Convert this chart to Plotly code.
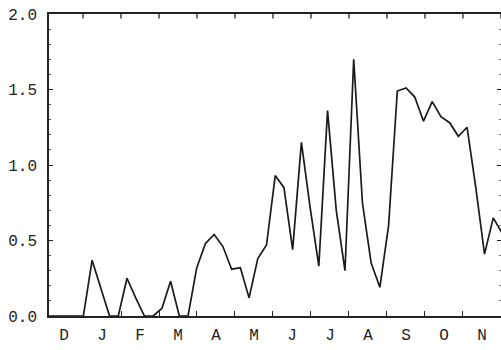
import plotly.graph_objects as go

# Weekly values, week 0 = start of December through November
weeks = list(range(53))
values = [
    0.00, 0.00, 0.00, 0.00, 0.00, 0.37, 0.19, 0.00, 0.00, 0.25,
    0.12, 0.00, 0.00, 0.05, 0.23, 0.00, 0.00, 0.32, 0.48, 0.54,
    0.46, 0.31, 0.32, 0.12, 0.38, 0.47, 0.93, 0.85, 0.44, 1.15,
    0.72, 0.33, 1.36, 0.70, 0.30, 1.70, 0.75, 0.35, 0.19, 0.60,
    1.49, 1.51, 1.45, 1.29, 1.42, 1.32, 1.28, 1.19, 1.25, 0.85,
    0.41, 0.65, 0.55,
]

month_labels = ["D", "J", "F", "M", "A", "M", "J", "J", "A", "S", "O", "N"]
weeks_per_month = 4.357
month_start = -0.40
month_centers = [month_start + weeks_per_month * (k + 0.5) for k in range(len(month_labels))]
month_edges = [month_start + weeks_per_month * k for k in range(len(month_labels) + 1)]

y_ticks = [0.0, 0.5, 1.0, 1.5, 2.0]

ink = "#222222"
font_family = "Liberation Mono, DejaVu Sans Mono, monospace"
x_range = [0.057, 51.89]

fig = go.Figure()
fig.add_trace(go.Scatter(
    x=weeks, y=values, mode="lines",
    line=dict(color="#1a1a1a", width=1.7),
    hoverinfo="skip", showlegend=False,
))
# empty traces that carry the month labels and the right-hand tick marks
fig.add_trace(go.Scatter(
    x=[weeks[0]], y=[values[0]], xaxis="x2", yaxis="y", mode="lines",
    line=dict(width=0), hoverinfo="skip", showlegend=False,
))
fig.add_trace(go.Scatter(
    x=[weeks[0]], y=[values[0]], xaxis="x", yaxis="y2", mode="lines",
    line=dict(width=0), hoverinfo="skip", showlegend=False,
))

# month-boundary tick marks hanging from the top frame line
for edge in month_edges:
    if x_range[0] < edge < x_range[1]:
        fig.add_shape(
            type="line", xref="x", yref="y domain",
            x0=edge, x1=edge, y0=1.0, y1=0.985,
            line=dict(color=ink, width=1.3), layer="above",
        )

fig.update_layout(
    width=501, height=350,
    margin=dict(l=49, r=0, t=14, b=34),
    paper_bgcolor="white", plot_bgcolor="white",
    # month boundaries: tick marks on the bottom edge
    xaxis=dict(
        range=x_range,
        tickmode="array", tickvals=month_edges, showticklabels=False,
        ticks="inside", ticklen=5, tickwidth=1.3, tickcolor=ink,
        showgrid=False, zeroline=False,
        showline=True, linecolor=ink, linewidth=1.5, mirror=True,
    ),
    # month initials centred within each month
    xaxis2=dict(
        range=x_range, overlaying="x", side="bottom", anchor="y",
        tickmode="array", tickvals=month_centers, ticktext=month_labels,
        ticks="", showgrid=False, zeroline=False, showline=False,
        tickfont=dict(family=font_family, size=16, color=ink),
        ticklabelstandoff=7,
    ),
    yaxis=dict(
        range=[0, 2],
        tickmode="array", tickvals=y_ticks, tickformat=".1f",
        ticks="inside", ticklen=4, tickwidth=1.2, tickcolor=ink,
        showgrid=False, zeroline=False,
        showline=True, linecolor=ink, linewidth=1.5, mirror=False,
        tickfont=dict(family=font_family, size=16, color=ink),
        ticklabelstandoff=7,
        minor=dict(dtick=0.1, ticks="inside", ticklen=2, tickwidth=1,
                   tickcolor="#555555", showgrid=False),
    ),
    yaxis2=dict(
        range=[0, 2], overlaying="y", side="right", anchor="x",
        tickmode="array", tickvals=y_ticks,
        ticks="inside", ticklen=4, tickwidth=1.2, tickcolor=ink,
        showticklabels=False, showgrid=False, zeroline=False, showline=False,
        minor=dict(dtick=0.1, ticks="inside", ticklen=2, tickwidth=1,
                   tickcolor="#777777", showgrid=False),
    ),
)

fig.write_html("out.html")
